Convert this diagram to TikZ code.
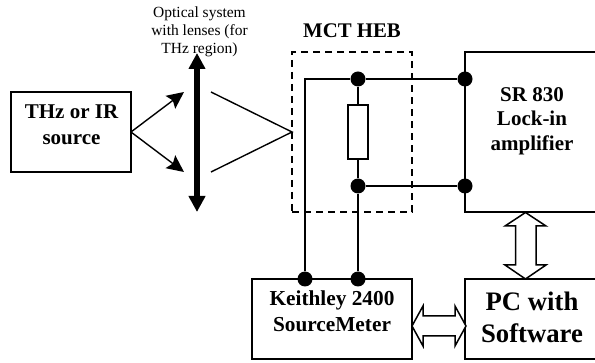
\documentclass[tikz,border=0pt]{standalone}
\usepackage{fontspec}
\setmainfont{Liberation Serif}
\usetikzlibrary{arrows.meta}
\tikzset{
  x=1pt,y=-1pt,
  wire/.style={draw=black,line width=1.6pt},
  box/.style={draw=black,line width=1.6pt,fill=white,rectangle,inner sep=0pt,outer sep=0pt},
  dot/.style={circle,fill=black,minimum size=15pt,inner sep=0pt},
  ray/.style={draw=black,line width=1.4pt},
  hollow/.style={draw=black,line width=1.5pt,fill=white,line join=miter},
  lbl/.style={font=\bfseries,align=center,inner sep=0pt},
}
\begin{document}
\begin{tikzpicture}
\useasboundingbox (0,0) rectangle (595,363);
% boxes
\node[box,minimum width=120pt,minimum height=80pt] (src) at (71,132) {};
\node[lbl,font=\bfseries\fontsize{21}{26}\selectfont] (srct) at (71.5,125) {THz or IR\\source};
\node[box,minimum width=160pt,minimum height=80pt] (kei) at (332,319) {};
\node[lbl,font=\bfseries\fontsize{21.3}{26}\selectfont] (keit) at (332,311) {Keithley 2400\\SourceMeter};
% SR box is open at the page edge
\coordinate (srtr) at (595,52);
\coordinate (srtl) at (465,52);
\coordinate (srbl) at (465,212);
\coordinate (srbr) at (595,212);
\draw[wire] (srtr) -- (srtl) -- (srbl) -- (srbr);
\node[lbl,font=\bfseries\fontsize{21}{24.5}\selectfont] (srt) at (532,121) {SR 830\\Lock-in\\amplifier};
\coordinate (pctr) at (595,279);
\coordinate (pctl) at (465,279);
\coordinate (pcbl) at (465,359);
\coordinate (pcbr) at (595,359);
\draw[wire] (pctr) -- (pctl) -- (pcbl) -- (pcbr);
\node[lbl,font=\bfseries\fontsize{26.7}{32}\selectfont] (pct) at (532,317.5) {PC with\\Software};
% optics
\coordinate (srcE) at (131,132);
\coordinate (up) at (184,92);
\coordinate (dn) at (184,172);
\draw[ray,-{Stealth[length=17pt,width=16pt,inset=3pt]}] (srcE) -- (up);
\draw[ray,-{Stealth[length=17pt,width=16pt,inset=3pt]}] (srcE) -- (dn);
\coordinate (lt) at (197,53);
\coordinate (lb) at (197,212);
\draw[line width=6pt,{Triangle[length=16pt,width=16pt]}-{Triangle[length=16pt,width=16pt]}] (lt) -- (lb);
\coordinate (f) at (292,132);
\coordinate (ru) at (211,92);
\coordinate (rd) at (211,172);
\draw[ray] (ru) -- (f) -- (rd);
\node[font=\fontsize{15.5}{18}\selectfont,align=center,inner sep=0pt] (opt) at (199.5,32) {Optical system\\with lenses (for\\THz region)};
% detector enclosure
\node[lbl,font=\bfseries\fontsize{20.8}{24}\selectfont] (mct) at (352,31) {MCT HEB};
\node[draw=black,line width=1.5pt,dash pattern=on 7pt off 5pt,minimum width=120pt,minimum height=160pt,inner sep=0pt] (heb) at (352,132) {};
% junctions
\node[dot] (a) at (358,79) {};
\node[dot] (b) at (465,79) {};
\node[dot] (c) at (358,186) {};
\node[dot] (d) at (465,186) {};
\node[dot] (e) at (305,279) {};
\node[dot] (g) at (358,279) {};
\coordinate (cor) at (305,79);
\node[box,draw=black,minimum width=20pt,minimum height=54pt] (res) at (358,132) {};
\draw[wire] (e) -- (cor) -- (a) -- (b);
\draw[wire] (a) -- (res) -- (c) -- (g);
\draw[wire] (c) -- (d);
% hollow double arrows
\draw[hollow] (525.5,212.5) -- (546,226) -- (536,226) -- (536,265) -- (546,265) -- (525.5,279) -- (505,265) -- (515.5,265) -- (515.5,226) -- (505,226) -- cycle;
\draw[hollow] (412,326) -- (423,306) -- (423,316) -- (455,316) -- (455,306) -- (466,326) -- (455,346) -- (455,336) -- (423,336) -- (423,346) -- cycle;
\end{tikzpicture}
\end{document}
